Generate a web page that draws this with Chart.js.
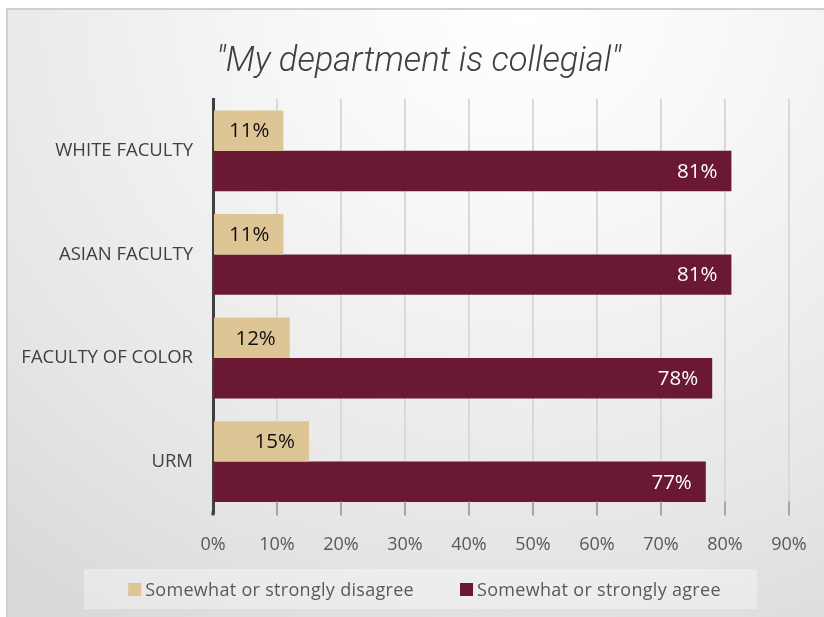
<!DOCTYPE html>
<html><head><meta charset="utf-8">
<script src="https://cdn.jsdelivr.net/npm/chart.js@4.4.0/dist/chart.umd.min.js"></script>
<style>
html,body{margin:0;padding:0;background:#fff;overflow:hidden;}
#frame{position:absolute;left:6px;top:8px;width:830px;height:620px;border-top:2px solid #d0d0d0;border-left:2px solid #d0d0d0;
background:radial-gradient(ellipse 95% 115% at 62% 0%, #ffffff 0%, #f7f7f7 30%, #e6e6e6 75%, #dadada 100%);}
#wrap{position:absolute;left:0;top:0;width:824px;height:617px;}
</style></head><body>
<div id="frame"></div>
<div id="wrap"><canvas id="c" width="824" height="617"></canvas></div>
<script>
const categories = ["WHITE FACULTY", "ASIAN FACULTY", "FACULTY OF COLOR", "URM"];
const seriesNames = ["Somewhat or strongly disagree", "Somewhat or strongly agree"];
const disagreeValues = [11, 11, 12, 15];
const agreeValues = [81, 81, 78, 77];
const axisMin = 0;
const axisMax = 90;
const axisStep = 10;
const chartTitle = '"My department is collegial"';

const TAN = '#DDC596';
const MAROON = '#6B1932';

const titlePlugin = {
  id: 'customTitle',
  afterDraw(chart) {
    const ctx = chart.ctx;
    ctx.save();
    ctx.font = 'italic 300 34.5px Roboto';
    ctx.fillStyle = '#404040';
    ctx.textAlign = 'center';
    ctx.textBaseline = 'middle';
    ctx.fillText(chartTitle, 418.5, 62);
    ctx.restore();
  }
};

const labelPlugin = {
  id: 'barLabels',
  afterDatasetsDraw(chart) {
    const ctx = chart.ctx;
    ctx.save();
    ctx.font = '20.5px "Open Sans"';
    ctx.textAlign = 'right';
    ctx.textBaseline = 'middle';
    chart.data.datasets.forEach((ds, i) => {
      const meta = chart.getDatasetMeta(i);
      ctx.fillStyle = ds.labelColor;
      meta.data.forEach((bar, j) => {
        ctx.fillText(ds.data[j] + '%', bar.x - 14, bar.y + 1);
      });
    });
    ctx.restore();
  }
};

const tickMarkPlugin = {
  id: 'tickMarks',
  afterDatasetsDraw(chart) {
    const ctx = chart.ctx;
    const xs = chart.scales.x;
    const area = chart.chartArea;
    ctx.save();
    ctx.strokeStyle = '#a6a6a6';
    ctx.lineWidth = 2;
    xs.ticks.forEach(t => {
      if (t.value === axisMin) return;
      const px = xs.getPixelForValue(t.value);
      ctx.beginPath();
      ctx.moveTo(px, area.bottom - 12);
      ctx.lineTo(px, area.bottom + 2);
      ctx.stroke();
    });
    ctx.strokeStyle = '#404040';
    ctx.lineWidth = 3;
    ctx.beginPath();
    ctx.moveTo(area.left, area.bottom - 2);
    ctx.lineTo(area.left, area.bottom + 2);
    ctx.stroke();
    ctx.restore();
  }
};

const legendPlugin = {
  id: 'customLegend',
  afterDraw(chart) {
    const ctx = chart.ctx;
    ctx.save();
    ctx.fillStyle = 'rgba(255,255,255,0.35)';
    ctx.fillRect(84, 569, 673, 40);
    ctx.font = '18px "Open Sans"';
    try { ctx.letterSpacing = '0.3px'; } catch (e) {}
    ctx.textBaseline = 'middle';
    ctx.textAlign = 'left';
    const box = 13, gapText = 4, gapItem = 46;
    const items = chart.data.datasets.map(ds => ({label: ds.label, color: ds.backgroundColor, w: ctx.measureText(ds.label).width}));
    let total = 0;
    items.forEach((it, k) => { total += box + gapText + it.w + (k < items.length - 1 ? gapItem : 0); });
    let x = 424.5 - total / 2;
    const cy = 589.5;
    items.forEach(it => {
      ctx.fillStyle = it.color;
      ctx.fillRect(x, cy - box / 2, box, box);
      ctx.fillStyle = '#595959';
      ctx.fillText(it.label, x + box + gapText, cy + 1);
      x += box + gapText + it.w + gapItem;
    });
    ctx.restore();
  }
};

function build() {
  new Chart(document.getElementById('c'), {
    type: 'bar',
    data: {
      labels: categories,
      datasets: [
        {label: seriesNames[0], data: disagreeValues, backgroundColor: TAN, labelColor: '#111111'},
        {label: seriesNames[1], data: agreeValues, backgroundColor: MAROON, labelColor: '#ffffff'}
      ]
    },
    options: {
      indexAxis: 'y',
      responsive: false,
      animation: false,
      devicePixelRatio: 1,
      datasets: {bar: {categoryPercentage: 0.78, barPercentage: 1.0, borderWidth: 0}},
      layout: {padding: {left: 10, right: 35, top: 99, bottom: 40}},
      plugins: {
        legend: {display: false},
        tooltip: {enabled: false},
        title: {display: false}
      },
      scales: {
        x: {
          type: 'linear',
          min: axisMin, max: axisMax,
          ticks: {stepSize: axisStep, callback: v => v + '%', color: '#595959', font: {family: 'Open Sans', size: 18}, padding: 21},
          grid: {color: '#d9d9d9', lineWidth: 2, drawTicks: false},
          border: {display: false},
          afterFit(scale) { scale.paddingRight = 0; scale.paddingLeft = 0; }
        },
        y: {
          ticks: {color: '#404040', font: {family: 'Open Sans', size: 18.5}, padding: 20},
          grid: {display: false, drawTicks: false},
          border: {display: true, color: '#404040', width: 3},
          afterFit(scale) { scale.width = 203; }
        }
      }
    },
    plugins: [labelPlugin, tickMarkPlugin, legendPlugin, titlePlugin]
  });
}
const fl = document.fonts ? Promise.all([
  document.fonts.load('17px "Open Sans"'),
  document.fonts.load('italic 300 30px Roboto')
]).catch(() => {}) : Promise.resolve();
fl.then(build);
</script>
</body></html>
